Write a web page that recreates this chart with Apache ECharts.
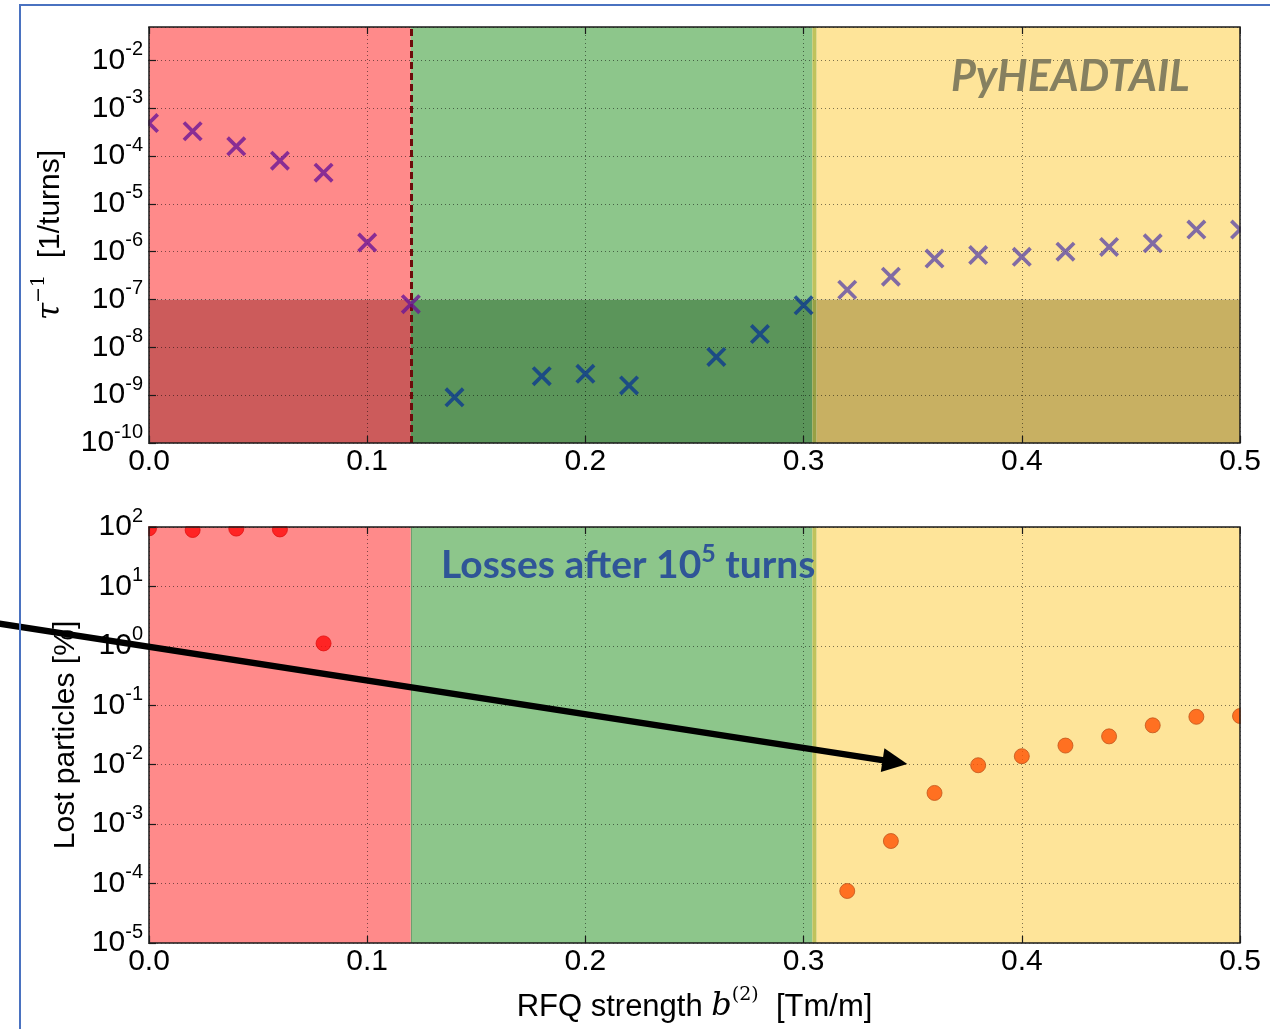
<!DOCTYPE html>
<html>
<head>
<meta charset="utf-8">
<script src="https://cdn.jsdelivr.net/npm/echarts@6/dist/echarts.min.js"></script>
<style>
  html, body { margin: 0; padding: 0; background: #ffffff; }
  #chart { width: 1270px; height: 1029px; }
</style>
</head>
<body>
<div id="chart"></div>
<script>
// Instability growth rate scan (upper panel)
const rateStrength = [0.00, 0.02, 0.04, 0.06, 0.08, 0.10, 0.12,
                      0.14, 0.18, 0.20, 0.22, 0.26, 0.28, 0.30,
                      0.32, 0.34, 0.36, 0.38, 0.40, 0.42, 0.44, 0.46, 0.48, 0.50];
const growthRate = [4.9e-4, 3.3e-4, 1.6e-4, 8.0e-5, 4.5e-5, 1.55e-6, 8.0e-8,
                    9.0e-10, 2.5e-9, 2.8e-9, 1.6e-9, 6.3e-9, 1.9e-8, 7.6e-8,
                    1.6e-7, 3.0e-7, 7.2e-7, 8.5e-7, 7.8e-7, 1.0e-6, 1.26e-6, 1.5e-6, 2.9e-6, 2.9e-6];

// Particle losses after 1e5 turns (lower panel)
const lossStrength = [0.00, 0.02, 0.04, 0.06, 0.08,
                      0.32, 0.34, 0.36, 0.38, 0.40, 0.42, 0.44, 0.46, 0.48, 0.50];
const lostPercent = [95, 89, 94, 91, 1.1,
                     7.5e-5, 5.2e-4, 3.35e-3, 9.8e-3, 1.39e-2, 2.1e-2, 3.0e-2, 4.6e-2, 6.4e-2, 6.6e-2];

// Axis ranges
const xRange = [0, 0.5];
const rateRange = [1e-10, 5e-2];
const lossRange = [1e-5, 1e2];

// Regime boundaries in RFQ strength and the growth-rate threshold
const unstableEdge = 0.12;
const stableEdge = 0.304;
const lossyEdge = 0.306;
const rateThreshold = 1e-7;

const FONT = '"Liberation Sans", Arial, sans-serif';
const MATH = '"DejaVu Serif", serif';

const zoneColors = {
  red:    { light: '#ff8a8a', dark: '#cc5b5b' },
  green:  { light: '#8dc68b', dark: '#5b955a' },
  olive:  { light: '#c0c25c', dark: '#97a044' },
  yellow: { light: '#fee499', dark: '#c8b062' }
};

function rateColor(x) {
  if (x <= unstableEdge + 1e-9) return '#6c1596';
  if (x <= lossyEdge) return '#0c3a8e';
  return '#614ca6';
}
function lossColor(x) {
  return x <= unstableEdge ? '#ff0a0a' : '#ff5203';
}
function lossBorder(x) {
  return x <= unstableEdge ? '#e01010' : '#c0551c';
}

const tickRich = {
  b: { fontFamily: FONT, fontSize: 30, lineHeight: 42, color: '#000' },
  s: { fontFamily: FONT, fontSize: 20, verticalAlign: 'top', color: '#000' }
};
function powerLabel(v) {
  const e = Math.round(Math.log10(v));
  return '{b|10}{s|' + e + '}';
}

const gridLine = { color: 'rgba(0,0,0,0.5)', width: 1, type: [1, 3] };
const tickStyle = { color: '#1a1a1a', width: 1.2 };

function labelXAxis(gridIndex, withName) {
  const ax = {
    type: 'value', gridIndex, min: xRange[0], max: xRange[1], interval: 0.1,
    position: 'bottom', z: 5,
    axisLine: { show: false },
    axisTick: { show: true, inside: true, length: 7, lineStyle: tickStyle },
    splitLine: { show: false },
    axisLabel: { margin: 4, fontSize: 30, fontFamily: FONT, color: '#000',
                 formatter: v => v.toFixed(1) }
  };
  if (withName) {
    ax.name = '{t|RFQ strength }{m|b}{s|(2)}{t|  [Tm/m]}';
    ax.nameLocation = 'middle';
    ax.nameGap = 43;
    ax.nameTextStyle = {
      rich: {
        t: { fontFamily: FONT, fontSize: 31, lineHeight: 42, color: '#000' },
        m: { fontFamily: MATH, fontStyle: 'italic', fontSize: 32, lineHeight: 42, color: '#000' },
        s: { fontFamily: MATH, fontSize: 19, verticalAlign: 'top', color: '#000' }
      }
    };
  }
  return ax;
}
function splitXAxis(gridIndex) {
  return {
    type: 'value', gridIndex, min: xRange[0], max: xRange[1], interval: 0.1,
    position: 'top', z: 2,
    axisLine: { show: false },
    axisTick: { show: true, inside: true, length: 7, lineStyle: tickStyle },
    axisLabel: { show: false },
    splitLine: { show: true, lineStyle: gridLine }
  };
}
function labelYAxis(gridIndex, range, name, nameGap, nameRich, hideMax) {
  return {
    type: 'log', logBase: 10, gridIndex, min: range[0], max: range[1],
    position: 'left', z: 5,
    axisLine: { show: false },
    axisTick: { show: true, inside: true, length: 7, lineStyle: tickStyle },
    splitLine: { show: false },
    axisLabel: { margin: 6, formatter: powerLabel, rich: tickRich, showMaxLabel: !hideMax },
    name, nameLocation: 'middle', nameGap,
    nameTextStyle: { rich: nameRich }
  };
}
function splitYAxis(gridIndex, range) {
  return {
    type: 'log', logBase: 10, gridIndex, min: range[0], max: range[1],
    position: 'right', z: 2,
    axisLine: { show: false },
    axisTick: { show: true, inside: true, length: 7, lineStyle: tickStyle },
    axisLabel: { show: false },
    splitLine: { show: true, lineStyle: gridLine }
  };
}

function zoneRect(x0, x1, y0, y1, color) {
  return [{ xAxis: x0, yAxis: y0, itemStyle: { color } }, { xAxis: x1, yAxis: y1 }];
}

const rateZones = [
  zoneRect(0, unstableEdge, rateThreshold, rateRange[1], zoneColors.red.light),
  zoneRect(0, unstableEdge, rateRange[0], rateThreshold, zoneColors.red.dark),
  zoneRect(unstableEdge, stableEdge, rateThreshold, rateRange[1], zoneColors.green.light),
  zoneRect(unstableEdge, stableEdge, rateRange[0], rateThreshold, zoneColors.green.dark),
  zoneRect(stableEdge, lossyEdge, rateThreshold, rateRange[1], zoneColors.olive.light),
  zoneRect(stableEdge, lossyEdge, rateRange[0], rateThreshold, zoneColors.olive.dark),
  zoneRect(lossyEdge, xRange[1], rateThreshold, rateRange[1], zoneColors.yellow.light),
  zoneRect(lossyEdge, xRange[1], rateRange[0], rateThreshold, zoneColors.yellow.dark)
];
const lossZones = [
  zoneRect(0, unstableEdge, lossRange[0], lossRange[1], zoneColors.red.light),
  zoneRect(unstableEdge, stableEdge, lossRange[0], lossRange[1], zoneColors.green.light),
  zoneRect(stableEdge, lossyEdge, lossRange[0], lossRange[1], zoneColors.olive.light),
  zoneRect(lossyEdge, xRange[1], lossRange[0], lossRange[1], zoneColors.yellow.light)
];

// Thick "x" marker drawn as two filled diagonal bars
const crossSymbol = 'path://M0,2.6 L2.6,0 L20,17.4 L17.4,20 Z M17.4,0 L20,2.6 L2.6,20 L0,17.4 Z';

const rateData = rateStrength.map((x, i) => ({
  value: [x, growthRate[i]], itemStyle: { color: rateColor(x) }
}));
const lossData = lossStrength.map((x, i) => ({
  value: [x, lostPercent[i]],
  itemStyle: { color: lossColor(x), borderColor: lossBorder(x), borderWidth: 1 }
}));

const chart = echarts.init(document.getElementById('chart'), null, { renderer: 'canvas' });

// White strips around the plotting areas so markers sitting on an edge are cut at the frame
const W = '#ffffff';
const clipStrips = [
  { x: 21.5, y: 6, width: 126.8, height: 1030 },
  { x: 1240.8, y: 6, width: 40, height: 1030 },
  { x: 21.5, y: 6, width: 1260, height: 20.3 },
  { x: 21.5, y: 443.8, width: 1260, height: 82.5 },
  { x: 21.5, y: 943.8, width: 1260, height: 90 }
].map(r => ({ type: 'rect', z: 4, silent: true, shape: r, style: { fill: W } }));

const option = {
  animation: false,
  backgroundColor: '#ffffff',
  grid: [
    { left: 149, top: 27, width: 1091, height: 416, show: true, z: 5,
      backgroundColor: 'transparent', borderColor: '#1a1a1a', borderWidth: 1.5 },
    { left: 149, top: 527, width: 1091, height: 416, show: true, z: 5,
      backgroundColor: 'transparent', borderColor: '#1a1a1a', borderWidth: 1.5 }
  ],
  xAxis: [labelXAxis(0, false), splitXAxis(0), labelXAxis(1, true), splitXAxis(1)],
  yAxis: [
    labelYAxis(0, rateRange, '{m|τ}{s|−1}{t|  [1/turns]}', 77, {
      t: { fontFamily: FONT, fontSize: 30, lineHeight: 42, color: '#000' },
      m: { fontFamily: MATH, fontStyle: 'italic', fontSize: 31, lineHeight: 42, color: '#000' },
      s: { fontFamily: MATH, fontSize: 19, verticalAlign: 'top', color: '#000' }
    }, true),
    splitYAxis(0, rateRange),
    labelYAxis(1, lossRange, '{t|Lost particles [%]}', 65, {
      t: { fontFamily: FONT, fontSize: 30, lineHeight: 36, color: '#000' }
    }, false),
    splitYAxis(1, lossRange)
  ],
  series: [
    {
      type: 'scatter', xAxisIndex: 0, yAxisIndex: 0, data: [], z: 1, silent: true,
      markArea: { silent: true, z: 1, label: { show: false }, data: rateZones }
    },
    {
      type: 'scatter', xAxisIndex: 0, yAxisIndex: 0, data: [], z: 3, silent: true,
      markLine: {
        silent: true, z: 3, symbol: ['none', 'none'], label: { show: false },
        data: [
          { yAxis: rateThreshold, lineStyle: { color: 'rgba(40,20,0,0.35)', width: 1.5, type: 'solid' } },
          { xAxis: unstableEdge, lineStyle: { color: '#6e0b0b', width: 3, type: [7, 4] } }
        ]
      }
    },
    {
      name: 'growth rate', type: 'scatter', xAxisIndex: 0, yAxisIndex: 0, z: 3,
      symbol: crossSymbol, symbolSize: 20, data: rateData
    },
    {
      type: 'scatter', xAxisIndex: 2, yAxisIndex: 2, data: [], z: 1, silent: true,
      markArea: { silent: true, z: 1, label: { show: false }, data: lossZones }
    },
    {
      type: 'scatter', xAxisIndex: 2, yAxisIndex: 2, data: [], z: 3, silent: true,
      markLine: {
        silent: true, z: 3, symbol: ['none', 'none'], label: { show: false },
        data: [
          { xAxis: unstableEdge, lineStyle: { color: 'rgba(0,0,0,0.2)', width: 1, type: 'solid' } }
        ]
      }
    },
    {
      name: 'lost particles', type: 'scatter', xAxisIndex: 2, yAxisIndex: 2, z: 3,
      symbol: 'circle', symbolSize: 15, data: lossData
    }
  ],
  graphic: clipStrips.concat([
    {
      type: 'text', z: 6, silent: true, x: 951, y: 77,
      style: {
        text: 'PyHEADTAIL', fontFamily: 'Lato', fontStyle: 'italic', fontWeight: 'bold',
        fontSize: 43, fill: '#868060', align: 'left', verticalAlign: 'middle'
      }
    },
    {
      type: 'text', z: 6, silent: true, x: 441, y: 565,
      style: {
        text: '{a|Losses after 10}{b|5}{a| turns}',
        align: 'left', verticalAlign: 'middle',
        rich: {
          a: { fontFamily: 'Lato', fontWeight: 'bold', fontSize: 39, lineHeight: 48, fill: '#2f5597' },
          b: { fontFamily: 'Lato', fontWeight: 'bold', fontSize: 25, verticalAlign: 'top', fill: '#2f5597' }
        }
      }
    },
    {
      type: 'line', z: 6, silent: true,
      shape: { x1: -5, y1: 622.9, x2: 884, y2: 760.4 },
      style: { stroke: '#000000', lineWidth: 6.5 }
    },
    {
      type: 'polygon', z: 6, silent: true,
      shape: { points: [[907.3, 764.0], [880.8, 772.1], [884.4, 748.3]] },
      style: { fill: '#000000' }
    },
    {
      type: 'rect', z: 7, silent: true,
      shape: { x: 20, y: 5, width: 1300, height: 1100 },
      style: { fill: 'none', stroke: '#4a72c0', lineWidth: 2 }
    }
  ])
};

chart.setOption(option);
</script>
</body>
</html>
